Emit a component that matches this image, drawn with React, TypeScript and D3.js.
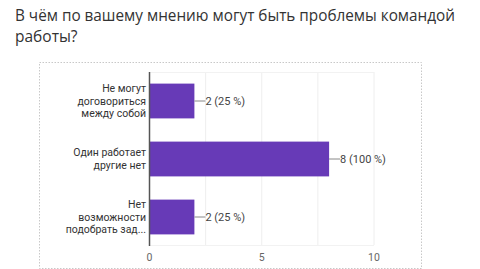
import React from "react";
import * as d3 from "d3";

const titleLines = ["В чём по вашему мнению могут быть проблемы командой", "работы?"];
const categories = ["Не могут договориться между собой", "Один работает другие нет", "Нет возможности подобрать зад..."];
const categoryLines = [
  ["Не могут", "договориться", "между собой"],
  ["Один работает", "другие нет"],
  ["Нет", "возможности", "подобрать зад..."],
];
const values = [2, 8, 2];
const valueLabels = ["2 (25 %)", "8 (100 %)", "2 (25 %)"];
const tickValues = [0, 5, 10];
const gridValues = [0, 2.5, 5, 7.5, 10];

export default function App() {
  const W = 480, H = 269;
  const x = d3.scaleLinear().domain([0, 10]).range([149.5, 374]);
  const y = d3.scaleBand<string>().domain(categories).range([72, 246]).paddingInner(0.4).paddingOuter(0.2);
  const font = "Roboto, 'Noto Sans', sans-serif";
  return (
    <svg width={W} height={H} style={{ position: "fixed", left: 0, top: 0, background: "#fff" }}>
      <rect x={0} y={0} width={W} height={H} fill="#fff" />
      {titleLines.map((t, i) => (
        <text key={i} x={15} y={21 + i * 21} fontFamily="'Open Sans', 'Noto Sans', sans-serif" fontSize={15.5}
          fill="#333" textLength={i === 0 ? 440 : undefined} lengthAdjust="spacingAndGlyphs">{t}</text>
      ))}
      <rect x={39.5} y={62.5} width={382} height={206} fill="none" stroke="#c8c8c8" strokeDasharray="1.5,1.5" />
      {gridValues.map((g) => (
        <line key={g} x1={x(g)} x2={x(g)} y1={72} y2={245} stroke="#eeeeee" />
      ))}
      <line x1={x(0)} x2={x(10)} y1={72.5} y2={72.5} stroke="#f2f2f2" />
      <line x1={x(0)} x2={x(10)} y1={245.5} y2={245.5} stroke="#f2f2f2" />
      {categories.map((c, i) => {
        const y0 = y(c)!;
        const bw = y.bandwidth();
        const cy = y0 + bw / 2;
        const lines = categoryLines[i];
        const lh = 12.5;
        return (
          <g key={c}>
            <rect x={x(0)} y={y0} width={x(values[i]) - x(0)} height={bw} fill="#673ab7" />
            <line x1={x(values[i])} x2={x(values[i]) + 11} y1={cy} y2={cy} stroke="#888" />
            <text x={x(values[i]) + 11} y={cy} dy="0.35em" fontFamily={font} fontSize={11} fill="#444">{valueLabels[i]}</text>
            {lines.map((l, j) => (
              <text key={j} x={146} y={cy + (j - (lines.length - 1) / 2) * lh} dy="0.35em" textAnchor="end"
                fontFamily={font} fontSize={10.5} fill="#333">{l}</text>
            ))}
          </g>
        );
      })}
      <line x1={x(0)} x2={x(0)} y1={72} y2={246} stroke="#555" strokeWidth={1.5} />
      {tickValues.map((t) => (
        <text key={t} x={x(t)} y={257} dy="0.35em" textAnchor="middle" fontFamily={font} fontSize={10.5} fill="#666">{t}</text>
      ))}
    </svg>
  );
}
